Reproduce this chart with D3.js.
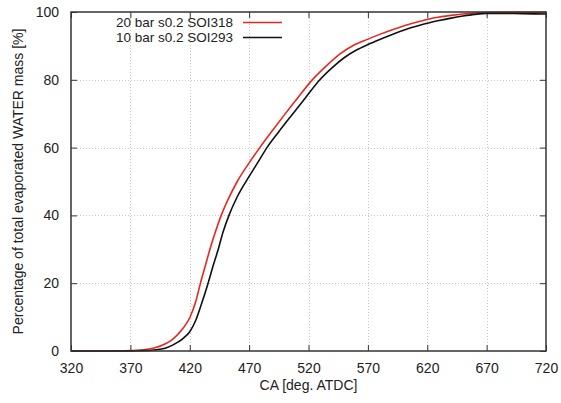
<!DOCTYPE html>
<html>
<head>
<meta charset="utf-8">
<script src="https://cdn.jsdelivr.net/npm/d3@7"></script>
<style>
  html, body { margin: 0; padding: 0; background: #fff; }
  svg { display: block; font-family: "Liberation Sans", Arial, sans-serif; }
</style>
</head>
<body>
<svg id="chart" width="561" height="403"></svg>
<script>
// Crank angle samples (deg. ATDC) and cumulative evaporated water mass (%)
const caRed = [320, 340, 360, 370, 380, 390, 400, 405, 410, 415, 420, 425, 429, 433, 437, 441.5, 446.5, 452, 460, 470, 479, 490, 500, 511, 523, 535, 546, 558, 570, 580, 590, 600, 610, 620, 630, 640, 650, 660, 670, 680, 700, 720];
const pctRed = [0, 0, 0.03, 0.1, 0.3, 0.9, 2.2, 3.3, 4.9, 7, 9.8, 14.5, 20, 25, 30, 35, 40, 44.5, 50, 55.5, 60, 65.2, 69.8, 74.7, 79.9, 84.1, 87.5, 90.2, 92, 93.4, 94.7, 95.9, 96.9, 97.8, 98.5, 99, 99.4, 99.7, 99.85, 99.9, 99.9, 99.9];

const caBlack = [320, 360, 370, 380, 390, 400, 410, 415, 420, 425, 430, 435, 440, 444, 448, 453, 460, 470, 478, 485, 495, 505, 517, 529, 540, 550, 560, 570, 580, 590, 600, 610, 620, 630, 640, 650, 660, 670, 680, 700, 720];
const pctBlack = [0, 0, 0.05, 0.1, 0.3, 0.9, 2.6, 3.9, 5.7, 9, 14, 19.5, 25.5, 30, 35, 40, 45.5, 51.5, 56, 60, 64.7, 69.2, 74.5, 79.8, 83.6, 86.5, 88.7, 90.4, 91.9, 93.3, 94.6, 95.7, 96.7, 97.5, 98.2, 98.8, 99.3, 99.6, 99.6, 99.5, 99.4];

const seriesNames = ["20 bar s0.2 SOI318", "10 bar s0.2 SOI293"];
const seriesColors = ["#e8281e", "#111111"];

const xTicks = [320, 370, 420, 470, 520, 570, 620, 670, 720];
const yTicks = [0, 20, 40, 60, 80, 100];

const margin = { left: 71, right: 15, top: 12, bottom: 52 };
const W = 561, H = 403;
const svg = d3.select("#chart");

const x = d3.scaleLinear().domain([320, 720]).range([margin.left, W - margin.right]);
const y = d3.scaleLinear().domain([0, 100]).range([H - margin.bottom, margin.top]);

const x0 = x.range()[0], x1 = x.range()[1];
const y0 = y.range()[0], y1 = y.range()[1];

// dotted grid
const grid = svg.append("g").attr("stroke", "#c8c8c8").attr("stroke-width", 1).attr("stroke-dasharray", "1,2");
grid.selectAll("line.gx").data(xTicks.slice(1, -1)).join("line")
  .attr("x1", d => Math.round(x(d)) + 0.5).attr("x2", d => Math.round(x(d)) + 0.5)
  .attr("y1", y1).attr("y2", y0);
grid.selectAll("line.gy").data(yTicks.slice(1, -1)).join("line")
  .attr("y1", d => Math.round(y(d)) + 0.5).attr("y2", d => Math.round(y(d)) + 0.5)
  .attr("x1", x0).attr("x2", x1);

// axes with inward ticks, mirrored on top and right
const tickLen = 6;
const fmt = d3.format("d");
const axB = svg.append("g").attr("transform", `translate(0,${y0})`)
  .call(d3.axisBottom(x).tickValues(xTicks).tickSize(-tickLen).tickPadding(12).tickFormat(fmt));
const axT = svg.append("g").attr("transform", `translate(0,${y1})`)
  .call(d3.axisTop(x).tickValues(xTicks).tickSize(-tickLen).tickFormat(""));
const axL = svg.append("g").attr("transform", `translate(${x0},0)`)
  .call(d3.axisLeft(y).tickValues(yTicks).tickSize(-tickLen).tickPadding(12).tickFormat(fmt));
const axR = svg.append("g").attr("transform", `translate(${x1},0)`)
  .call(d3.axisRight(y).tickValues(yTicks).tickSize(-tickLen).tickFormat(""));

[axB, axT, axL, axR].forEach(g => {
  g.select(".domain").remove();
  g.selectAll(".tick line").attr("stroke", "#333").attr("stroke-width", 1);
  g.selectAll("text").attr("font-size", 14).attr("fill", "#222")
    .attr("font-family", "'Liberation Sans', Arial, sans-serif");
});

// series
const line = d3.line().x(d => x(d[0])).y(d => y(d[1])).curve(d3.curveMonotoneX);
const series = [
  { name: seriesNames[0], color: seriesColors[0], pts: d3.zip(caRed, pctRed) },
  { name: seriesNames[1], color: seriesColors[1], pts: d3.zip(caBlack, pctBlack) }
];
const plot = svg.append("g");
plot.selectAll("path").data(series).join("path")
  .attr("d", d => line(d.pts))
  .attr("fill", "none")
  .attr("stroke", d => d.color)
  .attr("stroke-width", 1.6);

// border
svg.append("rect")
  .attr("x", x0).attr("y", y1).attr("width", x1 - x0).attr("height", y0 - y1)
  .attr("fill", "none").attr("stroke", "#333").attr("stroke-width", 1.5);

// legend
const leg = svg.append("g");
series.forEach((s, i) => {
  const ly = 22.5 + i * 15;
  leg.append("text").attr("x", 233).attr("y", ly).attr("dy", "0.35em")
    .attr("text-anchor", "end").attr("font-size", 13.5).attr("fill", "#222").text(s.name);
  leg.append("line").attr("x1", 243).attr("x2", 282).attr("y1", ly).attr("y2", ly)
    .attr("stroke", s.color).attr("stroke-width", 1.6);
});

// axis titles
svg.append("text").attr("x", (x0 + x1) / 2).attr("y", 390)
  .attr("text-anchor", "middle").attr("font-size", 14).attr("fill", "#222")
  .text("CA [deg. ATDC]");
svg.append("text")
  .attr("transform", `translate(23,${(y0 + y1) / 2}) rotate(-90)`)
  .attr("text-anchor", "middle").attr("font-size", 14).attr("fill", "#222")
  .text("Percentage of total evaporated WATER mass [%]");
</script>
</body>
</html>
